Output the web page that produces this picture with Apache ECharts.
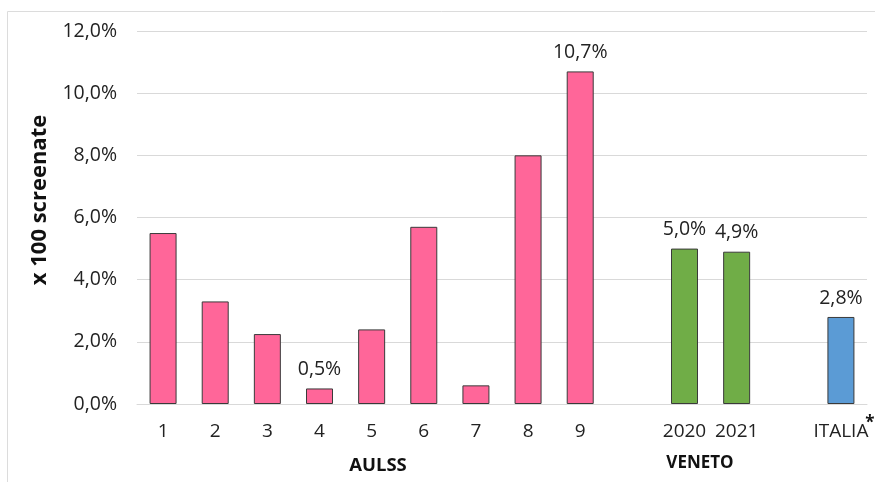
<!DOCTYPE html>
<html>
<head>
<meta charset="utf-8">
<script src="https://cdn.jsdelivr.net/npm/echarts@6/dist/echarts.min.js"></script>
<style>
  html, body { margin: 0; padding: 0; background: #fff; }
  #chart { width: 875px; height: 482px; }
</style>
</head>
<body>
<div id="chart"></div>
<script>
// Categories: the nine AULSS, two Veneto years and the national figure,
// with empty slots separating the three groups.
const categories = ['1', '2', '3', '4', '5', '6', '7', '8', '9', '', '2020', '2021', '', 'ITALIA'];
// Percent per 100 screened
const values = [5.5, 3.3, 2.25, 0.5, 2.4, 5.7, 0.6, 8.0, 10.7, null, 5.0, 4.9, null, 2.8];
// Group of each slot: a = AULSS, v = Veneto, i = Italia
const groups = ['a', 'a', 'a', 'a', 'a', 'a', 'a', 'a', 'a', '', 'v', 'v', '', 'i'];
// Which bars carry a value label
const labelled = [false, false, false, true, false, false, false, false, true, false, true, true, false, true];
const yTicks = [0, 2, 4, 6, 8, 10, 12];

const groupColors = { a: '#FF6699', v: '#70AD47', i: '#5B9BD5' };
const fontFamily = '"Open Sans", "Noto Sans", sans-serif';
const pct = v => v.toFixed(1).replace('.', ',') + '%';

const data = values.map((v, i) => ({
  value: v,
  itemStyle: { color: groupColors[groups[i]] || '#ccc' },
  label: { show: labelled[i] && v != null }
}));

const chart = echarts.init(document.getElementById('chart'), null, { renderer: 'canvas' });
chart.setOption({
  animation: false,
  backgroundColor: '#fff',
  grid: { left: 137, right: 8, top: 31, bottom: 78 },
  xAxis: {
    type: 'category',
    data: categories,
    axisLine: { lineStyle: { color: '#d9d9d9', width: 1 } },
    axisTick: { show: false },
    axisLabel: { color: '#222', fontSize: 19, fontFamily, margin: 18, interval: 0 }
  },
  yAxis: {
    type: 'value',
    min: yTicks[0],
    max: yTicks[yTicks.length - 1],
    interval: 2,
    axisLine: { show: false },
    axisTick: { show: false },
    splitLine: { lineStyle: { color: '#d9d9d9', width: 1 } },
    axisLabel: { color: '#222', fontSize: 19.5, fontFamily, margin: 20, formatter: v => pct(v) }
  },
  series: [{
    type: 'bar',
    data,
    barWidth: 27,
    itemStyle: { borderColor: '#3a3a3a', borderWidth: 1 },
    label: {
      position: 'top',
      distance: 9,
      color: '#222',
      fontSize: 19.5,
      fontFamily,
      formatter: p => pct(p.value)
    }
  }],
  graphic: [
    // outer frame (top and left edges)
    { type: 'line', shape: { x1: 7.5, y1: 11.5, x2: 875, y2: 11.5 }, style: { stroke: '#dcdcdc', lineWidth: 1 } },
    { type: 'line', shape: { x1: 7.5, y1: 11.5, x2: 7.5, y2: 482 }, style: { stroke: '#dcdcdc', lineWidth: 1 } },
    {
      type: 'text', x: 40, y: 200, rotation: Math.PI / 2,
      style: { text: 'x 100 screenate', font: 'bold 22px ' + fontFamily, fill: '#111', textAlign: 'center', textVerticalAlign: 'middle' }
    },
    {
      type: 'text', x: 378, y: 466,
      style: { text: 'AULSS', font: 'bold 18.5px ' + fontFamily, fill: '#111', textAlign: 'center', textVerticalAlign: 'middle' }
    },
    {
      type: 'text', x: 700, y: 463,
      style: { text: 'VENETO', font: 'bold 17px ' + fontFamily, fill: '#111', textAlign: 'center', textVerticalAlign: 'middle' }
    },
    {
      type: 'text', x: 870, y: 423,
      style: { text: '*', font: 'bold 17px ' + fontFamily, fill: '#111', textAlign: 'center', textVerticalAlign: 'middle' }
    }
  ]
});
</script>
</body>
</html>
